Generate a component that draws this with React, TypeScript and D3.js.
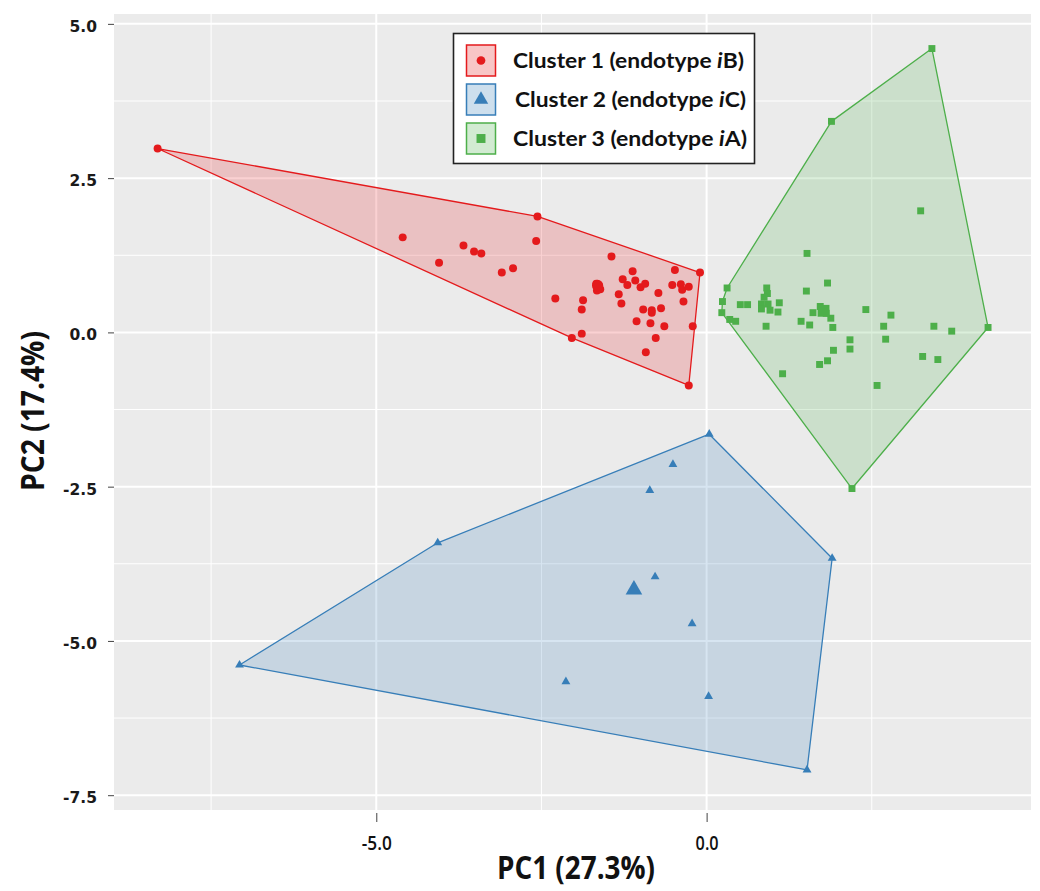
import React, { useEffect, useRef } from "react";
import * as d3 from "d3";

// PCA scores: [PC1, PC2]
const cluster1 = [
  [-8.31, 2.98], [-4.6, 1.54], [-4.05, 1.13], [-3.68, 1.41], [-3.52, 1.31], [-3.41, 1.28],
  [-3.1, 0.97], [-2.93, 1.04], [-2.56, 1.88], [-2.58, 1.48], [-2.29, 0.55], [-2.04, -0.09],
  [-1.89, -0.02], [-1.89, 0.37], [-1.87, 0.52], [-1.67, 0.79], [-1.61, 0.7], [-1.66, 0.68],
  [-1.44, 1.23], [-1.33, 0.62], [-1.29, 0.47], [-1.27, 0.86], [-1.2, 0.77], [-1.12, 0.99],
  [-1.08, 0.84], [-1.0, 0.73], [-0.93, 0.79], [-0.96, 0.37], [-1.06, 0.18], [-0.92, -0.32],
  [-0.85, 0.15], [-0.83, 0.36], [-0.83, 0.32], [-0.77, -0.09], [-0.73, 0.64], [-0.69, 0.39],
  [-0.64, 0.1], [-0.52, 0.77], [-0.48, 1.01], [-0.39, 0.78], [-0.37, 0.69], [-0.35, 0.5],
  [-0.27, 0.74], [-0.21, 0.1], [-0.1, 0.97], [-0.27, -0.86],
];
const cluster2 = [
  [0.04, -1.65], [-0.51, -2.14], [-0.86, -2.56], [-0.78, -3.96], [-0.22, -4.72], [0.03, -5.9],
  [1.9, -3.66], [1.52, -7.09], [-4.07, -3.41], [-7.07, -5.39], [-2.13, -5.66],
];
const cluster3 = [
  [3.41, 4.6], [1.89, 3.42], [3.24, 1.97], [1.52, 1.28], [0.31, 0.72], [0.91, 0.72],
  [0.92, 0.63], [0.87, 0.57], [0.83, 0.46], [0.83, 0.38], [0.93, 0.46], [0.96, 0.36],
  [1.08, 0.33], [1.1, 0.48], [0.24, 0.5], [0.23, 0.32], [0.35, 0.21], [0.44, 0.18],
  [0.51, 0.45], [0.62, 0.45], [0.9, 0.1], [1.51, 0.67], [1.83, 0.8], [1.61, 0.32],
  [1.72, 0.42], [1.81, 0.31], [1.88, 0.23], [1.91, 0.08], [1.43, 0.18], [1.56, 0.12],
  [2.41, 0.37], [2.79, 0.28], [2.68, 0.1], [2.71, -0.11], [2.17, -0.12], [2.17, -0.27],
  [1.92, -0.29], [1.83, -0.46], [1.71, -0.52], [1.15, -0.67], [2.58, -0.86], [3.44, 0.1],
  [3.71, 0.02], [3.27, -0.39], [3.5, -0.44], [4.26, 0.08], [2.2, -2.53],
];
const centroids = [[-1.65, 0.76], [-1.1, -4.17], [1.77, 0.35]];

const clusterLabels = ["Cluster 1 (endotype ", "Cluster 2 (endotype ", "Cluster 3 (endotype "];
const endotypeLetters = ["B)", "C)", "A)"];
const clusterColors = ["#E41A1C", "#377EB8", "#4DAF4A"];

const xMajor = [-5, 0];
const xMinor = [-7.5, -2.5, 2.5];
const yMajor = [-7.5, -5, -2.5, 0, 2.5, 5];
const yMinor = [-6.25, -3.75, -1.25, 1.25, 3.75];

const W = 1040;
const H = 891;

export default function App() {
  const ref = useRef<SVGSVGElement>(null);

  useEffect(() => {
    const svg = d3.select(ref.current);
    svg.selectAll("*").remove();

    const left = 114, right = 1031, top = 14, bottom = 810;
    const x = d3.scaleLinear().domain([-8.97, 4.91]).range([left, right]);
    const y = d3.scaleLinear().domain([-7.74, 5.16]).range([bottom, top]);
    const fmt = (d: number) => d3.format(".1f")(d).replace("\u2212", "-");

    svg.append("rect").attr("width", W).attr("height", H).attr("fill", "#fff");
    svg.append("rect")
      .attr("x", left).attr("y", top)
      .attr("width", right - left).attr("height", bottom - top)
      .attr("fill", "#EBEBEB");

    const grid = svg.append("g");
    grid.selectAll(".xmin").data(xMinor).enter().append("line")
      .attr("x1", d => x(d)).attr("x2", d => x(d)).attr("y1", top).attr("y2", bottom)
      .attr("stroke", "#fff").attr("stroke-width", 1);
    grid.selectAll(".ymin").data(yMinor).enter().append("line")
      .attr("y1", d => y(d)).attr("y2", d => y(d)).attr("x1", left).attr("x2", right)
      .attr("stroke", "#fff").attr("stroke-width", 1);
    grid.selectAll(".xmaj").data(xMajor).enter().append("line")
      .attr("x1", d => x(d)).attr("x2", d => x(d)).attr("y1", top).attr("y2", bottom)
      .attr("stroke", "#fff").attr("stroke-width", 2);
    grid.selectAll(".ymaj").data(yMajor).enter().append("line")
      .attr("y1", d => y(d)).attr("y2", d => y(d)).attr("x1", left).attr("x2", right)
      .attr("stroke", "#fff").attr("stroke-width", 2);

    const shapes = [d3.symbolCircle, d3.symbolTriangle, d3.symbolSquare];
    const sizes = [50, 34, 48];
    const centroidSizes = [100, 120, 140];
    const clusters = [cluster1, cluster2, cluster3];

    // hulls first
    clusters.forEach((pts, i) => {
      const hull = d3.polygonHull(pts.map(p => [x(p[0]), y(p[1])] as [number, number]));
      if (!hull) return;
      svg.append("path")
        .attr("d", "M" + hull.join("L") + "Z")
        .attr("fill", clusterColors[i]).attr("fill-opacity", 0.2)
        .attr("stroke", clusterColors[i]).attr("stroke-width", 1.3)
        .attr("stroke-linejoin", "round");
    });

    clusters.forEach((pts, i) => {
      svg.append("g").selectAll("path").data(pts).enter().append("path")
        .attr("d", d3.symbol().type(shapes[i]).size(sizes[i])())
        .attr("transform", d => `translate(${x(d[0])},${y(d[1])})`)
        .attr("fill", clusterColors[i]);
      svg.append("path")
        .attr("d", d3.symbol().type(shapes[i]).size(centroidSizes[i])())
        .attr("transform", `translate(${x(centroids[i][0])},${y(centroids[i][1])})`)
        .attr("fill", clusterColors[i]);
    });

    // axes
    const yAxis = svg.append("g")
      .attr("transform", `translate(${left},0)`)
      .call(d3.axisLeft(y).tickValues(yMajor).tickSize(6).tickPadding(11).tickFormat(fmt as any));
    yAxis.select(".domain").remove();
    yAxis.selectAll("line").attr("stroke", "#444");
    yAxis.selectAll("text")
      .attr("font-family", "'DejaVu Sans', Verdana, sans-serif")
      .attr("font-weight", "bold").attr("font-size", 15.5).attr("fill", "#1a1a1a")
      .attr("dy", "0.48em");

    const xAxis = svg.append("g")
      .attr("transform", `translate(0,${bottom})`)
      .call(d3.axisBottom(x).tickValues(xMajor).tickSize(9).tickPadding(18).tickFormat(fmt as any));
    xAxis.select(".domain").remove();
    xAxis.selectAll("line").attr("stroke", "#444").attr("transform", "translate(0,3)");
    xAxis.selectAll("text")
      .attr("font-family", "'Open Sans', sans-serif")
      .attr("font-size", 19).attr("font-weight", 600).attr("fill", "#111")
      .attr("textLength", (d: any) => (d < 0 ? 30 : 23)).attr("lengthAdjust", "spacingAndGlyphs");

    const titleFont = "'Open Sans', sans-serif";
    svg.append("text")
      .attr("x", 576).attr("y", 879)
      .attr("text-anchor", "middle")
      .attr("font-family", titleFont).attr("font-weight", "bold").attr("font-size", 32)
      .attr("fill", "#111")
      .attr("textLength", 158).attr("lengthAdjust", "spacingAndGlyphs")
      .text("PC1 (27.3%)");
    svg.append("text")
      .attr("transform", "translate(44,411) rotate(-90)")
      .attr("text-anchor", "middle")
      .attr("font-family", titleFont).attr("font-weight", "bold").attr("font-size", 32)
      .attr("fill", "#111")
      .attr("textLength", 160).attr("lengthAdjust", "spacingAndGlyphs")
      .text("PC2 (17.4%)");

    // legend
    const lg = svg.append("g");
    lg.append("rect")
      .attr("x", 453.5).attr("y", 33.5).attr("width", 301).attr("height", 130)
      .attr("fill", "#fff").attr("stroke", "#222").attr("stroke-width", 1.6);
    const keySizes = [60, 90, 80];
    clusterLabels.forEach((lab, i) => {
      const ky = 45 + i * 39;
      lg.append("rect")
        .attr("x", 466.5).attr("y", ky).attr("width", 29).attr("height", 31)
        .attr("fill", clusterColors[i]).attr("fill-opacity", 0.25)
        .attr("stroke", clusterColors[i]).attr("stroke-width", 1.5);
      lg.append("path")
        .attr("d", d3.symbol().type(shapes[i]).size(keySizes[i])())
        .attr("transform", `translate(481,${ky + 15.5})`)
        .attr("fill", clusterColors[i]);
      const t = lg.append("text")
        .attr("x", i === 1 ? 515 : 513).attr("y", ky + 23)
        .attr("font-family", "Lato, 'Open Sans', sans-serif")
        .attr("font-weight", "bold").attr("font-size", 21.5).attr("fill", "#111")
        .attr("textLength", i === 2 ? 234 : 231).attr("lengthAdjust", "spacingAndGlyphs");
      t.append("tspan").text(lab);
      t.append("tspan").attr("font-style", "italic").text("i");
      t.append("tspan").text(endotypeLetters[i]);
    });
  }, []);

  return (
    <svg
      ref={ref}
      width={W}
      height={H}
      style={{ position: "absolute", left: 0, top: 0, display: "block" }}
    />
  );
}
